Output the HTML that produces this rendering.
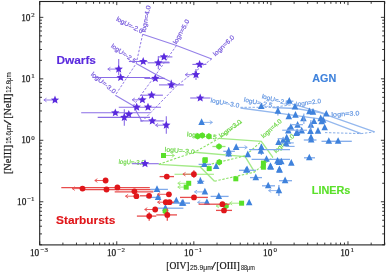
<!DOCTYPE html>
<html><head><meta charset="utf-8"><style>html,body{margin:0;padding:0;background:#fff;}svg{display:block;will-change:transform;}</style></head>
<body><svg width="387" height="273" viewBox="0 0 387 273">
<rect width="387" height="273" fill="#fff"/>
<polyline points="142.70,34.20 176.50,45.50 211.80,58.90" fill="none" stroke="#9580e8" stroke-width="1.1"/>
<polyline points="136.20,63.50 156.00,74.50 177.50,85.00" fill="none" stroke="#9580e8" stroke-width="1.1"/>
<polyline points="115.30,95.20 133.20,105.70 142.00,121.60" fill="none" stroke="#9580e8" stroke-width="1.1"/>
<polyline points="142.70,34.20 136.20,63.50 115.30,95.20" fill="none" stroke="#9078e6" stroke-width="1.0" stroke-dasharray="2.4,1.6"/>
<polyline points="176.50,45.50 156.00,74.50 133.20,105.70" fill="none" stroke="#9078e6" stroke-width="1.0" stroke-dasharray="2.4,1.6"/>
<polyline points="211.80,58.90 177.50,85.00 142.00,121.60" fill="none" stroke="#9078e6" stroke-width="1.0" stroke-dasharray="2.4,1.6"/>
<text x="141.50" y="33.60" font-family="Liberation Sans" font-size="6.4" fill="#7658dc" font-weight="normal" text-anchor="end" transform="rotate(27 141.50 33.60)" textLength="29" lengthAdjust="spacingAndGlyphs" stroke="#7658dc" stroke-width="0.18">logU=-2.0</text>
<text x="134.30" y="63.60" font-family="Liberation Sans" font-size="6.4" fill="#7658dc" font-weight="normal" text-anchor="end" transform="rotate(35 134.30 63.60)" textLength="29" lengthAdjust="spacingAndGlyphs" stroke="#7658dc" stroke-width="0.18">logU=-2.5</text>
<text x="113.80" y="93.80" font-family="Liberation Sans" font-size="6.4" fill="#7658dc" font-weight="normal" text-anchor="end" transform="rotate(39 113.80 93.80)" textLength="30" lengthAdjust="spacingAndGlyphs" stroke="#7658dc" stroke-width="0.18">logU=-3.0</text>
<text x="145.50" y="32.50" font-family="Liberation Sans" font-size="6.4" fill="#7658dc" font-weight="normal" text-anchor="start" transform="rotate(-79 145.50 32.50)" textLength="27" lengthAdjust="spacingAndGlyphs" stroke="#7658dc" stroke-width="0.18">logn=4.0</text>
<text x="176.50" y="44.50" font-family="Liberation Sans" font-size="6.4" fill="#7658dc" font-weight="normal" text-anchor="start" transform="rotate(-61 176.50 44.50)" textLength="27" lengthAdjust="spacingAndGlyphs" stroke="#7658dc" stroke-width="0.18">logn=5.0</text>
<text x="215.50" y="56.50" font-family="Liberation Sans" font-size="6.4" fill="#7658dc" font-weight="normal" text-anchor="start" transform="rotate(-44 215.50 56.50)" textLength="27" lengthAdjust="spacingAndGlyphs" stroke="#7658dc" stroke-width="0.18">logn=6.0</text>
<polyline points="240.50,108.00 280.00,113.30 323.40,119.30 361.20,133.60" fill="none" stroke="#94b8ee" stroke-width="1.3"/>
<polyline points="272.50,107.50 296.00,108.50 320.00,112.60 374.60,131.90" fill="none" stroke="#94b8ee" stroke-width="1.3"/>
<polyline points="294.00,104.50 316.00,110.90 326.50,114.00" fill="none" stroke="#94b8ee" stroke-width="1.3"/>
<polyline points="240.50,107.30 272.50,107.30 294.00,104.50" fill="none" stroke="#86ade8" stroke-width="1.0" stroke-dasharray="2.4,1.6"/>
<polyline points="325.00,132.60 361.20,133.60 374.60,131.90" fill="none" stroke="#86ade8" stroke-width="1.0" stroke-dasharray="2.4,1.6"/>
<text x="238.80" y="107.80" font-family="Liberation Sans" font-size="6.4" fill="#6497e2" font-weight="normal" text-anchor="end" transform="rotate(11 238.80 107.80)" textLength="29" lengthAdjust="spacingAndGlyphs" stroke="#6497e2" stroke-width="0.18">logU=-3.0</text>
<text x="271.80" y="107.60" font-family="Liberation Sans" font-size="6.4" fill="#6497e2" font-weight="normal" text-anchor="end" transform="rotate(12 271.80 107.60)" textLength="29" lengthAdjust="spacingAndGlyphs" stroke="#6497e2" stroke-width="0.18">logU=-2.5</text>
<text x="288.50" y="105.50" font-family="Liberation Sans" font-size="6.4" fill="#6497e2" font-weight="normal" text-anchor="end" transform="rotate(15 288.50 105.50)" textLength="28" lengthAdjust="spacingAndGlyphs" stroke="#6497e2" stroke-width="0.18">logU=-2.0</text>
<text x="296.50" y="106.50" font-family="Liberation Sans" font-size="6.4" fill="#6497e2" font-weight="normal" text-anchor="start" transform="rotate(-8 296.50 106.50)" textLength="25" lengthAdjust="spacingAndGlyphs" stroke="#6497e2" stroke-width="0.18">logn=2.0</text>
<text x="331.50" y="116.80" font-family="Liberation Sans" font-size="6.4" fill="#6497e2" font-weight="normal" text-anchor="start" transform="rotate(-3 331.50 116.80)" textLength="28" lengthAdjust="spacingAndGlyphs" stroke="#6497e2" stroke-width="0.18">logn=3.0</text>
<polyline points="219.00,138.40 261.30,141.40 272.90,157.30" fill="none" stroke="#a4ea88" stroke-width="1.4"/>
<polyline points="194.50,152.20 245.20,156.60 254.20,171.30" fill="none" stroke="#a4ea88" stroke-width="1.4"/>
<polyline points="158.80,164.40 200.00,166.80 214.50,181.20" fill="none" stroke="#a4ea88" stroke-width="1.4"/>
<polyline points="158.80,164.20 194.50,152.20 219.00,138.40 242.00,122.00" fill="none" stroke="#88e062" stroke-width="1.1" stroke-dasharray="2.4,1.6"/>
<polyline points="200.00,166.80 245.20,155.80 261.30,141.40" fill="none" stroke="#88e062" stroke-width="1.1" stroke-dasharray="2.4,1.6"/>
<polyline points="214.50,181.20 254.20,172.20 272.90,157.30" fill="none" stroke="#88e062" stroke-width="1.1" stroke-dasharray="2.4,1.6"/>
<text x="216.50" y="139.40" font-family="Liberation Sans" font-size="6.4" fill="#6cd646" font-weight="normal" text-anchor="end" transform="rotate(6 216.50 139.40)" textLength="30" lengthAdjust="spacingAndGlyphs" stroke="#6cd646" stroke-width="0.18">logU=-2.5</text>
<text x="194.50" y="154.00" font-family="Liberation Sans" font-size="6.4" fill="#6cd646" font-weight="normal" text-anchor="end" transform="rotate(5 194.50 154.00)" textLength="30" lengthAdjust="spacingAndGlyphs" stroke="#6cd646" stroke-width="0.18">logU=-3.0</text>
<text x="144.50" y="165.00" font-family="Liberation Sans" font-size="6.4" fill="#6cd646" font-weight="normal" text-anchor="end" transform="rotate(3 144.50 165.00)" textLength="26" lengthAdjust="spacingAndGlyphs" stroke="#6cd646" stroke-width="0.18">logU=-3.5</text>
<text x="221.00" y="138.00" font-family="Liberation Sans" font-size="6.4" fill="#6cd646" font-weight="normal" text-anchor="start" transform="rotate(-36 221.00 138.00)" textLength="26" lengthAdjust="spacingAndGlyphs" stroke="#6cd646" stroke-width="0.18">logn=3.0</text>
<text x="263.50" y="138.50" font-family="Liberation Sans" font-size="6.4" fill="#6cd646" font-weight="normal" text-anchor="start" transform="rotate(-42 263.50 138.50)" textLength="25" lengthAdjust="spacingAndGlyphs" stroke="#6cd646" stroke-width="0.18">logn=4.0</text>
<text x="276.00" y="153.50" font-family="Liberation Sans" font-size="6.4" fill="#6cd646" font-weight="normal" text-anchor="start" transform="rotate(-42 276.00 153.50)" textLength="25" lengthAdjust="spacingAndGlyphs" stroke="#6cd646" stroke-width="0.18">logn=5.0</text>
<line x1="61.30" y1="187.60" x2="149.80" y2="187.60" stroke="#e84c4c" stroke-width="1.3"/>
<line x1="82.00" y1="189.70" x2="153.40" y2="189.70" stroke="#e84c4c" stroke-width="1.3"/>
<line x1="114.70" y1="191.80" x2="153.40" y2="191.80" stroke="#e84c4c" stroke-width="1.3"/>
<line x1="140.00" y1="195.80" x2="149.00" y2="195.80" stroke="#e84c4c" stroke-width="1.3"/>
<line x1="55.00" y1="100.00" x2="43.90" y2="100.00" stroke="#8a6ce6" stroke-width="0.9"/>
<polyline points="46.50,98.20 43.90,100.00 46.50,101.80" fill="none" stroke="#8a6ce6" stroke-width="0.9"/>
<polygon points="55.00,95.60 56.16,98.40 59.18,98.64 56.88,100.61 57.59,103.56 55.00,101.98 52.41,103.56 53.12,100.61 50.82,98.64 53.84,98.40" fill="#5a2ade"/>
<line x1="118.70" y1="59.00" x2="118.70" y2="75.30" stroke="#8a6ce6" stroke-width="1.1"/>
<line x1="118.70" y1="69.10" x2="107.80" y2="69.10" stroke="#8a6ce6" stroke-width="0.9"/>
<polyline points="110.40,67.30 107.80,69.10 110.40,70.90" fill="none" stroke="#8a6ce6" stroke-width="0.9"/>
<polygon points="118.70,64.70 119.86,67.50 122.88,67.74 120.58,69.71 121.29,72.66 118.70,71.08 116.11,72.66 116.82,69.71 114.52,67.74 117.54,67.50" fill="#5a2ade"/>
<line x1="92.30" y1="77.50" x2="150.00" y2="77.50" stroke="#8a6ce6" stroke-width="1.1"/>
<polygon points="120.70,73.10 121.86,75.90 124.88,76.14 122.58,78.11 123.29,81.06 120.70,79.48 118.11,81.06 118.82,78.11 116.52,76.14 119.54,75.90" fill="#5a2ade"/>
<line x1="128.90" y1="61.50" x2="147.60" y2="61.50" stroke="#8a6ce6" stroke-width="1.1"/>
<polygon points="143.20,57.10 144.36,59.90 147.38,60.14 145.08,62.11 145.79,65.06 143.20,63.48 140.61,65.06 141.32,62.11 139.02,60.14 142.04,59.90" fill="#5a2ade"/>
<line x1="158.00" y1="56.90" x2="172.40" y2="56.90" stroke="#8a6ce6" stroke-width="1.1"/>
<polygon points="164.00,52.50 165.16,55.30 168.18,55.54 165.88,57.51 166.59,60.46 164.00,58.88 161.41,60.46 162.12,57.51 159.82,55.54 162.84,55.30" fill="#5a2ade"/>
<line x1="160.00" y1="62.20" x2="169.30" y2="62.20" stroke="#8a6ce6" stroke-width="1.3"/>
<line x1="147.60" y1="62.80" x2="169.60" y2="62.80" stroke="#8a6ce6" stroke-width="1.1"/>
<line x1="158.30" y1="56.30" x2="158.30" y2="69.20" stroke="#8a6ce6" stroke-width="1.1"/>
<polygon points="158.30,58.40 159.46,61.20 162.48,61.44 160.18,63.41 160.89,66.36 158.30,64.78 155.71,66.36 156.42,63.41 154.12,61.44 157.14,61.20" fill="#5a2ade"/>
<line x1="192.40" y1="64.40" x2="206.40" y2="64.40" stroke="#8a6ce6" stroke-width="1.1"/>
<polygon points="199.60,60.00 200.76,62.80 203.78,63.04 201.48,65.01 202.19,67.96 199.60,66.38 197.01,67.96 197.72,65.01 195.42,63.04 198.44,62.80" fill="#5a2ade"/>
<line x1="196.00" y1="69.00" x2="196.00" y2="80.00" stroke="#8a6ce6" stroke-width="1.1"/>
<line x1="196.00" y1="74.70" x2="185.20" y2="74.70" stroke="#8a6ce6" stroke-width="0.9"/>
<polyline points="187.80,72.90 185.20,74.70 187.80,76.50" fill="none" stroke="#8a6ce6" stroke-width="0.9"/>
<polygon points="196.00,70.30 197.16,73.10 200.18,73.34 197.88,75.31 198.59,78.26 196.00,76.68 193.41,78.26 194.12,75.31 191.82,73.34 194.84,73.10" fill="#5a2ade"/>
<line x1="144.40" y1="78.40" x2="165.00" y2="78.40" stroke="#8a6ce6" stroke-width="1.1"/>
<polygon points="155.30,74.00 156.46,76.80 159.48,77.04 157.18,79.01 157.89,81.96 155.30,80.38 152.71,81.96 153.42,79.01 151.12,77.04 154.14,76.80" fill="#5a2ade"/>
<line x1="159.00" y1="84.90" x2="183.60" y2="84.90" stroke="#8a6ce6" stroke-width="1.1"/>
<line x1="171.30" y1="79.70" x2="171.30" y2="88.70" stroke="#8a6ce6" stroke-width="1.1"/>
<polygon points="171.30,80.50 172.46,83.30 175.48,83.54 173.18,85.51 173.89,88.46 171.30,86.88 168.71,88.46 169.42,85.51 167.12,83.54 170.14,83.30" fill="#5a2ade"/>
<line x1="140.50" y1="95.20" x2="162.90" y2="95.20" stroke="#8a6ce6" stroke-width="1.1"/>
<polygon points="151.60,90.80 152.76,93.60 155.78,93.84 153.48,95.81 154.19,98.76 151.60,97.18 149.01,98.76 149.72,95.81 147.42,93.84 150.44,93.60" fill="#5a2ade"/>
<line x1="142.40" y1="99.80" x2="132.20" y2="99.80" stroke="#8a6ce6" stroke-width="0.9"/>
<polyline points="134.80,98.00 132.20,99.80 134.80,101.60" fill="none" stroke="#8a6ce6" stroke-width="0.9"/>
<polygon points="142.40,95.40 143.56,98.20 146.58,98.44 144.28,100.41 144.99,103.36 142.40,101.78 139.81,103.36 140.52,100.41 138.22,98.44 141.24,98.20" fill="#5a2ade"/>
<line x1="118.80" y1="107.20" x2="161.00" y2="107.20" stroke="#8a6ce6" stroke-width="1.1"/>
<polygon points="136.70,102.80 137.86,105.60 140.88,105.84 138.58,107.81 139.29,110.76 136.70,109.18 134.11,110.76 134.82,107.81 132.52,105.84 135.54,105.60" fill="#5a2ade"/>
<polygon points="148.00,102.80 149.16,105.60 152.18,105.84 149.88,107.81 150.59,110.76 148.00,109.18 145.41,110.76 146.12,107.81 143.82,105.84 146.84,105.60" fill="#5a2ade"/>
<line x1="81.20" y1="112.80" x2="150.30" y2="112.80" stroke="#8a6ce6" stroke-width="1.1"/>
<polygon points="115.30,108.40 116.46,111.20 119.48,111.44 117.18,113.41 117.89,116.36 115.30,114.78 112.71,116.36 113.42,113.41 111.12,111.44 114.14,111.20" fill="#5a2ade"/>
<polygon points="128.80,109.90 129.96,112.70 132.98,112.94 130.68,114.91 131.39,117.86 128.80,116.28 126.21,117.86 126.92,114.91 124.62,112.94 127.64,112.70" fill="#5a2ade"/>
<line x1="97.70" y1="117.40" x2="150.00" y2="117.40" stroke="#8a6ce6" stroke-width="1.1"/>
<line x1="124.30" y1="109.20" x2="124.30" y2="125.70" stroke="#8a6ce6" stroke-width="1.1"/>
<polygon points="124.30,113.00 125.46,115.80 128.48,116.04 126.18,118.01 126.89,120.96 124.30,119.38 121.71,120.96 122.42,118.01 120.12,116.04 123.14,115.80" fill="#5a2ade"/>
<line x1="140.00" y1="120.90" x2="163.80" y2="120.90" stroke="#8a6ce6" stroke-width="1.1"/>
<polygon points="152.30,116.50 153.46,119.30 156.48,119.54 154.18,121.51 154.89,124.46 152.30,122.88 149.71,124.46 150.42,121.51 148.12,119.54 151.14,119.30" fill="#5a2ade"/>
<line x1="166.30" y1="116.30" x2="166.30" y2="133.80" stroke="#8a6ce6" stroke-width="1.1"/>
<line x1="166.30" y1="125.20" x2="155.50" y2="125.20" stroke="#8a6ce6" stroke-width="0.9"/>
<polyline points="158.10,123.40 155.50,125.20 158.10,127.00" fill="none" stroke="#8a6ce6" stroke-width="0.9"/>
<polygon points="166.30,120.80 167.46,123.60 170.48,123.84 168.18,125.81 168.89,128.76 166.30,127.18 163.71,128.76 164.42,125.81 162.12,123.84 165.14,123.60" fill="#5a2ade"/>
<line x1="190.20" y1="98.00" x2="210.40" y2="98.00" stroke="#8a6ce6" stroke-width="1.1"/>
<polygon points="200.20,93.60 201.36,96.40 204.38,96.64 202.08,98.61 202.79,101.56 200.20,99.98 197.61,101.56 198.32,98.61 196.02,96.64 199.04,96.40" fill="#5a2ade"/>
<line x1="132.00" y1="163.70" x2="158.80" y2="163.70" stroke="#8a6ce6" stroke-width="1.1"/>
<polygon points="145.00,159.30 146.16,162.10 149.18,162.34 146.88,164.31 147.59,167.26 145.00,165.68 142.41,167.26 143.12,164.31 140.82,162.34 143.84,162.10" fill="#5a2ade"/>
<line x1="201.60" y1="122.40" x2="212.40" y2="122.40" stroke="#80aaea" stroke-width="0.9"/>
<polyline points="209.80,120.60 212.40,122.40 209.80,124.20" fill="none" stroke="#80aaea" stroke-width="0.9"/>
<polygon points="201.60,118.30 204.88,124.94 198.32,124.94" fill="#3f82dc"/>
<polygon points="261.30,102.40 264.58,109.04 258.02,109.04" fill="#3f82dc"/>
<line x1="277.90" y1="108.30" x2="277.90" y2="115.60" stroke="#80aaea" stroke-width="1.3"/>
<polygon points="277.90,107.10 281.18,113.74 274.62,113.74" fill="#3f82dc"/>
<line x1="285.70" y1="101.20" x2="293.40" y2="101.20" stroke="#80aaea" stroke-width="1.3"/>
<polygon points="289.30,97.10 292.58,103.74 286.02,103.74" fill="#3f82dc"/>
<polygon points="295.00,102.80 298.28,109.44 291.72,109.44" fill="#3f82dc"/>
<polygon points="309.40,107.60 312.68,114.24 306.12,114.24" fill="#3f82dc"/>
<polygon points="313.00,108.10 316.28,114.74 309.72,114.74" fill="#3f82dc"/>
<polygon points="326.30,109.90 329.58,116.54 323.02,116.54" fill="#3f82dc"/>
<polygon points="288.80,112.50 292.08,119.14 285.52,119.14" fill="#3f82dc"/>
<polygon points="295.50,111.10 298.78,117.74 292.22,117.74" fill="#3f82dc"/>
<polygon points="303.40,114.60 306.68,121.24 300.12,121.24" fill="#3f82dc"/>
<polygon points="320.70,114.50 323.98,121.14 317.42,121.14" fill="#3f82dc"/>
<polygon points="323.10,116.00 326.38,122.64 319.82,122.64" fill="#3f82dc"/>
<polygon points="314.00,117.40 317.28,124.04 310.72,124.04" fill="#3f82dc"/>
<polygon points="310.90,121.20 314.18,127.84 307.62,127.84" fill="#3f82dc"/>
<polygon points="324.70,123.70 327.98,130.34 321.42,130.34" fill="#3f82dc"/>
<polygon points="297.60,121.10 300.88,127.74 294.32,127.74" fill="#3f82dc"/>
<polygon points="290.90,123.20 294.18,129.84 287.62,129.84" fill="#3f82dc"/>
<polygon points="288.30,126.80 291.58,133.44 285.02,133.44" fill="#3f82dc"/>
<polygon points="297.10,128.40 300.38,135.04 293.82,135.04" fill="#3f82dc"/>
<polygon points="301.70,126.80 304.98,133.44 298.42,133.44" fill="#3f82dc"/>
<polygon points="310.50,127.30 313.78,133.94 307.22,133.94" fill="#3f82dc"/>
<polygon points="318.00,127.10 321.28,133.74 314.72,133.74" fill="#3f82dc"/>
<polygon points="311.00,133.50 314.28,140.14 307.72,140.14" fill="#3f82dc"/>
<line x1="303.80" y1="140.00" x2="316.50" y2="140.00" stroke="#80aaea" stroke-width="1.3"/>
<polygon points="311.20,135.90 314.48,142.54 307.92,142.54" fill="#3f82dc"/>
<polygon points="283.10,136.60 286.38,143.24 279.82,143.24" fill="#3f82dc"/>
<polygon points="287.80,137.20 291.08,143.84 284.52,143.84" fill="#3f82dc"/>
<polygon points="286.70,133.70 289.98,140.34 283.42,140.34" fill="#3f82dc"/>
<line x1="278.30" y1="142.90" x2="293.80" y2="142.90" stroke="#80aaea" stroke-width="1.1"/>
<polygon points="286.20,139.70 289.48,146.34 282.92,146.34" fill="#3f82dc"/>
<line x1="321.50" y1="141.30" x2="351.80" y2="141.30" stroke="#80aaea" stroke-width="1.3"/>
<polygon points="328.80,137.20 332.08,143.84 325.52,143.84" fill="#3f82dc"/>
<polygon points="338.10,137.20 341.38,143.84 334.82,143.84" fill="#3f82dc"/>
<line x1="304.00" y1="157.80" x2="315.00" y2="157.80" stroke="#80aaea" stroke-width="1.3"/>
<polygon points="309.30,153.70 312.58,160.34 306.02,160.34" fill="#3f82dc"/>
<polygon points="321.70,117.70 324.98,124.34 318.42,124.34" fill="#3f82dc"/>
<polygon points="296.50,129.40 299.78,136.04 293.22,136.04" fill="#3f82dc"/>
<polygon points="278.50,138.40 281.78,145.04 275.22,145.04" fill="#3f82dc"/>
<line x1="282.20" y1="130.20" x2="307.00" y2="130.20" stroke="#80aaea" stroke-width="1.1"/>
<line x1="285.30" y1="146.40" x2="294.60" y2="146.40" stroke="#80aaea" stroke-width="1.1"/>
<line x1="277.60" y1="138.70" x2="285.00" y2="138.70" stroke="#80aaea" stroke-width="1.1"/>
<line x1="292.00" y1="124.70" x2="303.00" y2="124.70" stroke="#80aaea" stroke-width="1.1"/>
<line x1="303.90" y1="113.50" x2="303.90" y2="124.00" stroke="#80aaea" stroke-width="1.1"/>
<line x1="310.90" y1="120.00" x2="310.90" y2="130.00" stroke="#80aaea" stroke-width="1.1"/>
<line x1="249.00" y1="149.60" x2="290.00" y2="149.60" stroke="#80aaea" stroke-width="1.3"/>
<line x1="251.60" y1="159.30" x2="290.00" y2="159.30" stroke="#80aaea" stroke-width="1.3"/>
<line x1="261.40" y1="144.00" x2="261.40" y2="155.00" stroke="#80aaea" stroke-width="1.3"/>
<polygon points="261.40,143.40 264.68,150.04 258.12,150.04" fill="#3f82dc"/>
<polygon points="260.90,147.00 264.18,153.64 257.62,153.64" fill="#3f82dc"/>
<line x1="236.20" y1="147.40" x2="247.20" y2="147.40" stroke="#80aaea" stroke-width="0.9"/>
<polyline points="244.60,145.60 247.20,147.40 244.60,149.20" fill="none" stroke="#80aaea" stroke-width="0.9"/>
<polygon points="236.20,143.30 239.48,149.94 232.92,149.94" fill="#3f82dc"/>
<line x1="223.30" y1="151.30" x2="234.90" y2="151.30" stroke="#80aaea" stroke-width="1.3"/>
<line x1="228.70" y1="147.30" x2="228.70" y2="157.00" stroke="#80aaea" stroke-width="1.3"/>
<polygon points="228.70,147.20 231.98,153.84 225.42,153.84" fill="#3f82dc"/>
<polygon points="228.70,149.80 231.98,156.44 225.42,156.44" fill="#3f82dc"/>
<polygon points="247.80,150.50 251.08,157.14 244.52,157.14" fill="#3f82dc"/>
<polygon points="266.50,155.20 269.78,161.84 263.22,161.84" fill="#3f82dc"/>
<polygon points="277.50,157.10 280.78,163.74 274.22,163.74" fill="#3f82dc"/>
<polygon points="281.30,157.70 284.58,164.34 278.02,164.34" fill="#3f82dc"/>
<polygon points="270.40,162.30 273.68,168.94 267.12,168.94" fill="#3f82dc"/>
<polygon points="247.10,165.50 250.38,172.14 243.82,172.14" fill="#3f82dc"/>
<polygon points="279.40,165.50 282.68,172.14 276.12,172.14" fill="#3f82dc"/>
<polygon points="278.90,158.40 282.18,165.04 275.62,165.04" fill="#3f82dc"/>
<polygon points="291.30,159.00 294.58,165.64 288.02,165.64" fill="#3f82dc"/>
<polygon points="270.70,163.10 273.98,169.74 267.42,169.74" fill="#3f82dc"/>
<polygon points="279.50,166.20 282.78,172.84 276.22,172.84" fill="#3f82dc"/>
<line x1="250.00" y1="177.60" x2="262.00" y2="177.60" stroke="#80aaea" stroke-width="1.3"/>
<polygon points="255.80,173.50 259.08,180.14 252.52,180.14" fill="#3f82dc"/>
<line x1="279.00" y1="180.70" x2="292.00" y2="180.70" stroke="#80aaea" stroke-width="1.3"/>
<polygon points="285.10,176.60 288.38,183.24 281.82,183.24" fill="#3f82dc"/>
<line x1="262.00" y1="185.80" x2="275.00" y2="185.80" stroke="#80aaea" stroke-width="1.3"/>
<polygon points="268.20,181.70 271.48,188.34 264.92,188.34" fill="#3f82dc"/>
<line x1="278.90" y1="185.00" x2="278.90" y2="196.00" stroke="#80aaea" stroke-width="1.3"/>
<line x1="278.90" y1="190.60" x2="268.60" y2="190.60" stroke="#80aaea" stroke-width="0.9"/>
<polyline points="271.20,188.80 268.60,190.60 271.20,192.40" fill="none" stroke="#80aaea" stroke-width="0.9"/>
<polygon points="278.90,186.50 282.18,193.14 275.62,193.14" fill="#3f82dc"/>
<line x1="198.60" y1="164.40" x2="211.00" y2="164.40" stroke="#80aaea" stroke-width="1.3"/>
<polygon points="204.40,160.30 207.68,166.94 201.12,166.94" fill="#3f82dc"/>
<polygon points="216.20,162.40 219.48,169.04 212.92,169.04" fill="#3f82dc"/>
<line x1="239.00" y1="170.30" x2="256.00" y2="170.30" stroke="#80aaea" stroke-width="1.3"/>
<polygon points="246.30,166.20 249.58,172.84 243.02,172.84" fill="#3f82dc"/>
<line x1="197.00" y1="181.30" x2="204.20" y2="181.30" stroke="#80aaea" stroke-width="1.3"/>
<line x1="200.40" y1="177.40" x2="200.40" y2="183.90" stroke="#80aaea" stroke-width="1.3"/>
<polygon points="200.40,177.20 203.68,183.84 197.12,183.84" fill="#3f82dc"/>
<line x1="204.90" y1="191.90" x2="194.50" y2="191.90" stroke="#80aaea" stroke-width="0.9"/>
<polyline points="197.10,190.10 194.50,191.90 197.10,193.70" fill="none" stroke="#80aaea" stroke-width="0.9"/>
<polygon points="204.90,187.80 208.18,194.44 201.62,194.44" fill="#3f82dc"/>
<line x1="210.60" y1="196.40" x2="228.60" y2="196.40" stroke="#80aaea" stroke-width="1.3"/>
<polygon points="218.80,192.30 222.08,198.94 215.52,198.94" fill="#3f82dc"/>
<line x1="178.00" y1="203.20" x2="190.00" y2="203.20" stroke="#80aaea" stroke-width="1.3"/>
<polygon points="183.10,199.10 186.38,205.74 179.82,205.74" fill="#3f82dc"/>
<line x1="206.90" y1="202.40" x2="197.60" y2="202.40" stroke="#80aaea" stroke-width="0.9"/>
<polyline points="200.20,200.60 197.60,202.40 200.20,204.20" fill="none" stroke="#80aaea" stroke-width="0.9"/>
<polygon points="206.90,198.30 210.18,204.94 203.62,204.94" fill="#3f82dc"/>
<polygon points="249.20,198.70 252.48,205.34 245.92,205.34" fill="#3f82dc"/>
<line x1="150.30" y1="189.40" x2="167.90" y2="189.40" stroke="#80aaea" stroke-width="1.3"/>
<polygon points="157.00,185.30 160.28,191.94 153.72,191.94" fill="#3f82dc"/>
<line x1="146.20" y1="197.40" x2="160.70" y2="197.40" stroke="#80aaea" stroke-width="1.3"/>
<polygon points="158.10,193.30 161.38,199.94 154.82,199.94" fill="#3f82dc"/>
<polygon points="176.30,196.70 179.58,203.34 173.02,203.34" fill="#3f82dc"/>
<line x1="170.00" y1="203.20" x2="190.00" y2="203.20" stroke="#80aaea" stroke-width="1.3"/>
<polygon points="182.20,199.10 185.48,205.74 178.92,205.74" fill="#3f82dc"/>
<line x1="157.60" y1="208.20" x2="183.40" y2="208.20" stroke="#80aaea" stroke-width="1.3"/>
<polygon points="165.40,204.10 168.68,210.74 162.12,210.74" fill="#3f82dc"/>
<line x1="163.50" y1="155.50" x2="174.40" y2="155.50" stroke="#98e874" stroke-width="0.9"/>
<polyline points="171.80,153.70 174.40,155.50 171.80,157.30" fill="none" stroke="#98e874" stroke-width="0.9"/>
<rect x="161.00" y="153.00" width="5.0" height="5.0" fill="#5ae02a"/>
<line x1="188.70" y1="183.30" x2="177.80" y2="183.30" stroke="#98e874" stroke-width="0.9"/>
<polyline points="180.40,181.50 177.80,183.30 180.40,185.10" fill="none" stroke="#98e874" stroke-width="0.9"/>
<rect x="186.20" y="180.80" width="5.0" height="5.0" fill="#5ae02a"/>
<line x1="186.20" y1="187.10" x2="177.80" y2="187.10" stroke="#98e874" stroke-width="0.9"/>
<polyline points="180.40,185.30 177.80,187.10 180.40,188.90" fill="none" stroke="#98e874" stroke-width="0.9"/>
<rect x="183.70" y="184.60" width="5.0" height="5.0" fill="#5ae02a"/>
<polygon points="197.60,139.50 194.83,137.90 194.83,134.70 197.60,133.10 200.37,134.70 200.37,137.90" fill="#5ae02a"/>
<polygon points="202.30,138.70 199.53,137.10 199.53,133.90 202.30,132.30 205.07,133.90 205.07,137.10" fill="#5ae02a"/>
<polygon points="208.90,139.50 206.13,137.90 206.13,134.70 208.90,133.10 211.67,134.70 211.67,137.90" fill="#5ae02a"/>
<line x1="212.40" y1="146.50" x2="225.50" y2="146.50" stroke="#98e874" stroke-width="1.3"/>
<polygon points="219.00,149.70 216.23,148.10 216.23,144.90 219.00,143.30 221.77,144.90 221.77,148.10" fill="#5ae02a"/>
<rect x="202.70" y="157.20" width="5.0" height="5.0" fill="#5ae02a"/>
<polygon points="219.30,165.40 216.53,163.80 216.53,160.60 219.30,159.00 222.07,160.60 222.07,163.80" fill="#5ae02a"/>
<rect x="206.70" y="166.10" width="5.0" height="5.0" fill="#5ae02a"/>
<rect x="202.40" y="158.10" width="5.0" height="5.0" fill="#5ae02a"/>
<rect x="233.30" y="176.30" width="5.0" height="5.0" fill="#5ae02a"/>
<line x1="226.00" y1="206.00" x2="216.20" y2="206.00" stroke="#98e874" stroke-width="0.9"/>
<polyline points="218.80,204.20 216.20,206.00 218.80,207.80" fill="none" stroke="#98e874" stroke-width="0.9"/>
<polygon points="226.00,209.20 223.23,207.60 223.23,204.40 226.00,202.80 228.77,204.40 228.77,207.60" fill="#5ae02a"/>
<line x1="241.60" y1="203.20" x2="229.60" y2="203.20" stroke="#98e874" stroke-width="0.9"/>
<polyline points="232.20,201.40 229.60,203.20 232.20,205.00" fill="none" stroke="#98e874" stroke-width="0.9"/>
<rect x="239.10" y="200.70" width="5.0" height="5.0" fill="#5ae02a"/>
<rect x="260.90" y="160.60" width="5.0" height="5.0" fill="#5ae02a"/>
<rect x="260.90" y="164.70" width="5.0" height="5.0" fill="#5ae02a"/>
<polygon points="165.40,214.60 162.63,213.00 162.63,209.80 165.40,208.20 168.17,209.80 168.17,213.00" fill="#5ae02a"/>
<line x1="174.50" y1="174.20" x2="213.90" y2="174.20" stroke="#98e874" stroke-width="1.1"/>
<line x1="105.60" y1="180.50" x2="94.80" y2="180.50" stroke="#e84c4c" stroke-width="0.9"/>
<polyline points="97.40,178.70 94.80,180.50 97.40,182.30" fill="none" stroke="#e84c4c" stroke-width="0.9"/>
<circle cx="105.60" cy="180.50" r="2.9" fill="#e0161a"/>
<line x1="82.50" y1="188.60" x2="72.20" y2="188.60" stroke="#e84c4c" stroke-width="0.9"/>
<polyline points="74.80,186.80 72.20,188.60 74.80,190.40" fill="none" stroke="#e84c4c" stroke-width="0.9"/>
<circle cx="82.50" cy="188.60" r="2.9" fill="#e0161a"/>
<circle cx="106.50" cy="189.50" r="2.9" fill="#e0161a"/>
<circle cx="117.40" cy="187.40" r="2.9" fill="#e0161a"/>
<circle cx="134.40" cy="191.30" r="2.9" fill="#e0161a"/>
<line x1="136.40" y1="196.20" x2="125.50" y2="196.20" stroke="#e84c4c" stroke-width="0.9"/>
<polyline points="128.10,194.40 125.50,196.20 128.10,198.00" fill="none" stroke="#e84c4c" stroke-width="0.9"/>
<circle cx="136.40" cy="196.20" r="2.9" fill="#e0161a"/>
<circle cx="149.10" cy="195.80" r="2.9" fill="#e0161a"/>
<line x1="159.60" y1="176.60" x2="174.00" y2="176.60" stroke="#e84c4c" stroke-width="1.3"/>
<circle cx="166.80" cy="176.60" r="2.9" fill="#e0161a"/>
<line x1="168.90" y1="194.30" x2="157.60" y2="194.30" stroke="#e84c4c" stroke-width="0.9"/>
<polyline points="160.20,192.50 157.60,194.30 160.20,196.10" fill="none" stroke="#e84c4c" stroke-width="0.9"/>
<circle cx="168.90" cy="194.30" r="2.9" fill="#e0161a"/>
<line x1="165.00" y1="202.20" x2="174.10" y2="202.20" stroke="#e84c4c" stroke-width="1.3"/>
<line x1="165.80" y1="202.20" x2="157.60" y2="202.20" stroke="#e84c4c" stroke-width="0.9"/>
<polyline points="160.20,200.40 157.60,202.20 160.20,204.00" fill="none" stroke="#e84c4c" stroke-width="0.9"/>
<circle cx="165.80" cy="202.20" r="2.9" fill="#e0161a"/>
<circle cx="169.50" cy="202.20" r="2.9" fill="#e0161a"/>
<line x1="155.20" y1="209.50" x2="144.70" y2="209.50" stroke="#e84c4c" stroke-width="0.9"/>
<polyline points="147.30,207.70 144.70,209.50 147.30,211.30" fill="none" stroke="#e84c4c" stroke-width="0.9"/>
<circle cx="155.20" cy="209.50" r="2.9" fill="#e0161a"/>
<line x1="136.90" y1="216.10" x2="156.30" y2="216.10" stroke="#e84c4c" stroke-width="1.3"/>
<line x1="149.20" y1="212.30" x2="149.20" y2="220.70" stroke="#e84c4c" stroke-width="1.3"/>
<circle cx="149.20" cy="216.10" r="2.9" fill="#e0161a"/>
<line x1="156.30" y1="214.90" x2="177.00" y2="214.90" stroke="#e84c4c" stroke-width="1.3"/>
<line x1="167.30" y1="208.40" x2="167.30" y2="220.70" stroke="#e84c4c" stroke-width="1.3"/>
<circle cx="167.30" cy="214.90" r="2.9" fill="#e0161a"/>
<line x1="193.90" y1="170.30" x2="193.90" y2="178.10" stroke="#e84c4c" stroke-width="1.3"/>
<line x1="193.90" y1="174.20" x2="182.90" y2="174.20" stroke="#e84c4c" stroke-width="0.9"/>
<polyline points="185.50,172.40 182.90,174.20 185.50,176.00" fill="none" stroke="#e84c4c" stroke-width="0.9"/>
<circle cx="193.90" cy="174.20" r="2.9" fill="#e0161a"/>
<line x1="180.00" y1="197.40" x2="207.90" y2="197.40" stroke="#e84c4c" stroke-width="1.3"/>
<circle cx="194.00" cy="197.40" r="2.9" fill="#e0161a"/>
<line x1="198.60" y1="204.20" x2="229.60" y2="204.20" stroke="#e84c4c" stroke-width="1.3"/>
<circle cx="222.40" cy="204.20" r="2.9" fill="#e0161a"/>
<line x1="216.00" y1="210.40" x2="232.00" y2="210.40" stroke="#e84c4c" stroke-width="1.3"/>
<circle cx="224.00" cy="210.40" r="2.9" fill="#e0161a"/>
<text x="56.40" y="63.60" font-family="Liberation Sans" font-size="10.1" fill="#5a2ade" font-weight="bold" text-anchor="start" textLength="39.6" lengthAdjust="spacingAndGlyphs" stroke="#5a2ade" stroke-width="0.12">Dwarfs</text>
<text x="312.20" y="81.90" font-family="Liberation Sans" font-size="10.1" fill="#3f82dc" font-weight="bold" text-anchor="start" textLength="24.0" lengthAdjust="spacingAndGlyphs" stroke="#3f82dc" stroke-width="0.12">AGN</text>
<text x="311.80" y="193.90" font-family="Liberation Sans" font-size="10.1" fill="#5ae02a" font-weight="bold" text-anchor="start" textLength="38.6" lengthAdjust="spacingAndGlyphs" stroke="#5ae02a" stroke-width="0.12">LINERs</text>
<text x="56.00" y="223.90" font-family="Liberation Sans" font-size="10.1" fill="#e0161a" font-weight="bold" text-anchor="start" textLength="59.4" lengthAdjust="spacingAndGlyphs" stroke="#e0161a" stroke-width="0.12">Starbursts</text>
<path d="M39.70,244.9v-3.6M39.70,1.5v3.6M62.90,244.9v-2.3M62.90,1.5v2.3M76.47,244.9v-2.3M76.47,1.5v2.3M86.10,244.9v-2.3M86.10,1.5v2.3M93.57,244.9v-2.3M93.57,1.5v2.3M99.67,244.9v-2.3M99.67,1.5v2.3M104.83,244.9v-2.3M104.83,1.5v2.3M109.30,244.9v-2.3M109.30,1.5v2.3M113.24,244.9v-2.3M113.24,1.5v2.3M116.77,244.9v-3.6M116.77,1.5v3.6M139.97,244.9v-2.3M139.97,1.5v2.3M153.54,244.9v-2.3M153.54,1.5v2.3M163.17,244.9v-2.3M163.17,1.5v2.3M170.64,244.9v-2.3M170.64,1.5v2.3M176.74,244.9v-2.3M176.74,1.5v2.3M181.90,244.9v-2.3M181.90,1.5v2.3M186.37,244.9v-2.3M186.37,1.5v2.3M190.31,244.9v-2.3M190.31,1.5v2.3M193.84,244.9v-3.6M193.84,1.5v3.6M217.04,244.9v-2.3M217.04,1.5v2.3M230.61,244.9v-2.3M230.61,1.5v2.3M240.24,244.9v-2.3M240.24,1.5v2.3M247.71,244.9v-2.3M247.71,1.5v2.3M253.81,244.9v-2.3M253.81,1.5v2.3M258.97,244.9v-2.3M258.97,1.5v2.3M263.44,244.9v-2.3M263.44,1.5v2.3M267.38,244.9v-2.3M267.38,1.5v2.3M270.91,244.9v-3.6M270.91,1.5v3.6M294.11,244.9v-2.3M294.11,1.5v2.3M307.68,244.9v-2.3M307.68,1.5v2.3M317.31,244.9v-2.3M317.31,1.5v2.3M324.78,244.9v-2.3M324.78,1.5v2.3M330.88,244.9v-2.3M330.88,1.5v2.3M336.04,244.9v-2.3M336.04,1.5v2.3M340.51,244.9v-2.3M340.51,1.5v2.3M344.45,244.9v-2.3M344.45,1.5v2.3M347.98,244.9v-3.6M347.98,1.5v3.6M371.18,244.9v-2.3M371.18,1.5v2.3M384.75,244.9v-2.3M384.75,1.5v2.3M39.7,244.73h2.3M384.5,244.73h-2.3M39.7,233.90h2.3M384.5,233.90h-2.3M39.7,226.22h2.3M384.5,226.22h-2.3M39.7,220.26h2.3M384.5,220.26h-2.3M39.7,215.40h2.3M384.5,215.40h-2.3M39.7,211.28h2.3M384.5,211.28h-2.3M39.7,207.72h2.3M384.5,207.72h-2.3M39.7,204.57h2.3M384.5,204.57h-2.3M39.7,201.76h3.6M384.5,201.76h-3.6M39.7,183.26h2.3M384.5,183.26h-2.3M39.7,172.43h2.3M384.5,172.43h-2.3M39.7,164.75h2.3M384.5,164.75h-2.3M39.7,158.79h2.3M384.5,158.79h-2.3M39.7,153.93h2.3M384.5,153.93h-2.3M39.7,149.81h2.3M384.5,149.81h-2.3M39.7,146.25h2.3M384.5,146.25h-2.3M39.7,143.10h2.3M384.5,143.10h-2.3M39.7,140.29h3.6M384.5,140.29h-3.6M39.7,121.79h2.3M384.5,121.79h-2.3M39.7,110.96h2.3M384.5,110.96h-2.3M39.7,103.28h2.3M384.5,103.28h-2.3M39.7,97.32h2.3M384.5,97.32h-2.3M39.7,92.46h2.3M384.5,92.46h-2.3M39.7,88.34h2.3M384.5,88.34h-2.3M39.7,84.78h2.3M384.5,84.78h-2.3M39.7,81.63h2.3M384.5,81.63h-2.3M39.7,78.82h3.6M384.5,78.82h-3.6M39.7,60.32h2.3M384.5,60.32h-2.3M39.7,49.49h2.3M384.5,49.49h-2.3M39.7,41.81h2.3M384.5,41.81h-2.3M39.7,35.85h2.3M384.5,35.85h-2.3M39.7,30.99h2.3M384.5,30.99h-2.3M39.7,26.87h2.3M384.5,26.87h-2.3M39.7,23.31h2.3M384.5,23.31h-2.3M39.7,20.16h2.3M384.5,20.16h-2.3M39.7,17.35h3.6M384.5,17.35h-3.6" stroke="#222" stroke-width="0.9" fill="none"/>
<rect x="39.7" y="1.5" width="344.80" height="243.40" fill="none" stroke="#222" stroke-width="1.1"/>
<text x="29.90" y="255.6" font-family="Liberation Serif" font-size="10" fill="#1a1a1a" stroke="#1a1a1a" stroke-width="0.25" textLength="9.3" lengthAdjust="spacingAndGlyphs">10</text>
<text x="40.50" y="252.4" font-family="Liberation Serif" font-size="6.9" fill="#1a1a1a" stroke="#1a1a1a" stroke-width="0.15">&#8722;3</text>
<text x="106.97" y="255.6" font-family="Liberation Serif" font-size="10" fill="#1a1a1a" stroke="#1a1a1a" stroke-width="0.25" textLength="9.3" lengthAdjust="spacingAndGlyphs">10</text>
<text x="117.57" y="252.4" font-family="Liberation Serif" font-size="6.9" fill="#1a1a1a" stroke="#1a1a1a" stroke-width="0.15">&#8722;2</text>
<text x="184.04" y="255.6" font-family="Liberation Serif" font-size="10" fill="#1a1a1a" stroke="#1a1a1a" stroke-width="0.25" textLength="9.3" lengthAdjust="spacingAndGlyphs">10</text>
<text x="194.64" y="252.4" font-family="Liberation Serif" font-size="6.9" fill="#1a1a1a" stroke="#1a1a1a" stroke-width="0.15">&#8722;1</text>
<text x="263.11" y="255.6" font-family="Liberation Serif" font-size="10" fill="#1a1a1a" stroke="#1a1a1a" stroke-width="0.25" textLength="9.3" lengthAdjust="spacingAndGlyphs">10</text>
<text x="273.51" y="252.4" font-family="Liberation Serif" font-size="6.9" fill="#1a1a1a" stroke="#1a1a1a" stroke-width="0.15">0</text>
<text x="340.18" y="255.6" font-family="Liberation Serif" font-size="10" fill="#1a1a1a" stroke="#1a1a1a" stroke-width="0.25" textLength="9.3" lengthAdjust="spacingAndGlyphs">10</text>
<text x="350.58" y="252.4" font-family="Liberation Serif" font-size="6.9" fill="#1a1a1a" stroke="#1a1a1a" stroke-width="0.15">1</text>
<text x="17.1" y="204.96" font-family="Liberation Serif" font-size="10" fill="#1a1a1a" stroke="#1a1a1a" stroke-width="0.25" textLength="9.3" lengthAdjust="spacingAndGlyphs">10</text>
<text x="27.2" y="201.16" font-family="Liberation Serif" font-size="6.9" fill="#1a1a1a" stroke="#1a1a1a" stroke-width="0.15" textLength="7.4" lengthAdjust="spacingAndGlyphs">&#8722;1</text>
<text x="21.2" y="143.49" font-family="Liberation Serif" font-size="10" fill="#1a1a1a" stroke="#1a1a1a" stroke-width="0.25" textLength="9.3" lengthAdjust="spacingAndGlyphs">10</text>
<text x="31.2" y="139.69" font-family="Liberation Serif" font-size="6.9" fill="#1a1a1a" stroke="#1a1a1a" stroke-width="0.15">0</text>
<text x="21.2" y="82.02" font-family="Liberation Serif" font-size="10" fill="#1a1a1a" stroke="#1a1a1a" stroke-width="0.25" textLength="9.3" lengthAdjust="spacingAndGlyphs">10</text>
<text x="31.2" y="78.22" font-family="Liberation Serif" font-size="6.9" fill="#1a1a1a" stroke="#1a1a1a" stroke-width="0.15">1</text>
<text x="21.2" y="20.55" font-family="Liberation Serif" font-size="10" fill="#1a1a1a" stroke="#1a1a1a" stroke-width="0.25" textLength="9.3" lengthAdjust="spacingAndGlyphs">10</text>
<text x="31.2" y="16.75" font-family="Liberation Serif" font-size="6.9" fill="#1a1a1a" stroke="#1a1a1a" stroke-width="0.15">2</text>
<text x="166.30" y="269.30" font-family="Liberation Serif" font-size="10" fill="#1a1a1a" stroke="#1a1a1a" stroke-width="0.22" textLength="23.20" lengthAdjust="spacingAndGlyphs">[OIV]</text>
<text x="190.10" y="270.00" font-family="Liberation Sans" font-size="6.9" fill="#1a1a1a" stroke="#1a1a1a" stroke-width="0.1" textLength="22.70" lengthAdjust="spacingAndGlyphs">25.9&#956;m</text>
<text x="211.80" y="269.30" font-family="Liberation Serif" font-size="10" fill="#1a1a1a" stroke="#1a1a1a" stroke-width="0.22" textLength="4.20" lengthAdjust="spacingAndGlyphs">/</text>
<text x="216.30" y="269.30" font-family="Liberation Serif" font-size="10" fill="#1a1a1a" stroke="#1a1a1a" stroke-width="0.22" textLength="23.60" lengthAdjust="spacingAndGlyphs">[OIII]</text>
<text x="240.90" y="270.00" font-family="Liberation Sans" font-size="6.9" fill="#1a1a1a" stroke="#1a1a1a" stroke-width="0.1" textLength="13.80" lengthAdjust="spacingAndGlyphs">88&#956;m</text>
<g transform="translate(10.5 173.8) rotate(-90)"><text x="-0.30" y="0.00" font-family="Liberation Serif" font-size="10" fill="#1a1a1a" stroke="#1a1a1a" stroke-width="0.22" textLength="29.20" lengthAdjust="spacingAndGlyphs">[NeIII]</text><text x="30.00" y="0.80" font-family="Liberation Sans" font-size="6.9" fill="#1a1a1a" stroke="#1a1a1a" stroke-width="0.1" textLength="19.80" lengthAdjust="spacingAndGlyphs">15.6&#956;m</text><text x="48.90" y="0.00" font-family="Liberation Serif" font-size="10" fill="#1a1a1a" stroke="#1a1a1a" stroke-width="0.22" textLength="5.10" lengthAdjust="spacingAndGlyphs">/</text><text x="55.00" y="0.00" font-family="Liberation Serif" font-size="10" fill="#1a1a1a" stroke="#1a1a1a" stroke-width="0.22" textLength="25.30" lengthAdjust="spacingAndGlyphs">[NeII]</text><text x="81.00" y="0.80" font-family="Liberation Sans" font-size="6.9" fill="#1a1a1a" stroke="#1a1a1a" stroke-width="0.1" textLength="20.40" lengthAdjust="spacingAndGlyphs">12.8&#956;m</text></g>
</svg></body></html>
